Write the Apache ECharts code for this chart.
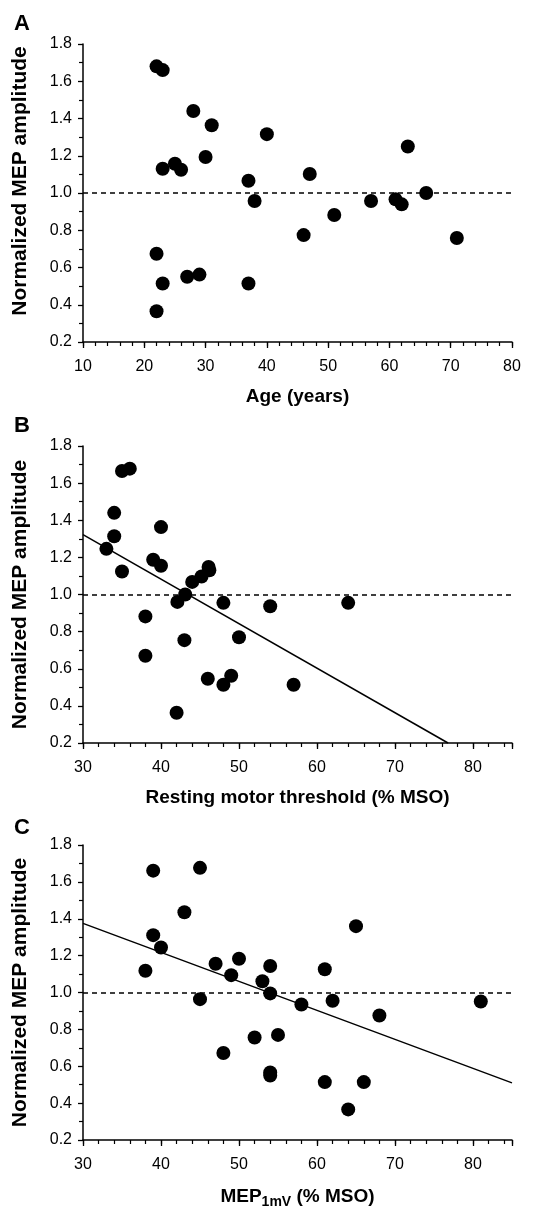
<!DOCTYPE html>
<html>
<head>
<meta charset="utf-8">
<script src="https://cdn.jsdelivr.net/npm/echarts@6/dist/echarts.min.js"></script>
<style>
html,body{margin:0;padding:0;background:#fff;}
#chart{width:544px;height:1210px;}
</style>
</head>
<body>
<div id="chart"></div>
<script>
// Panel A: Age vs normalized MEP amplitude
const ageA = [22, 23, 28, 31, 40, 63, 30, 23, 25, 26, 37, 47, 66, 38, 57, 61, 62, 51, 46, 71, 22, 23, 27, 29, 37, 22];
const mepA = [1.68, 1.66, 1.44, 1.364, 1.316, 1.25, 1.193, 1.13, 1.157, 1.125, 1.066, 1.102, 1.0, 0.957, 0.957, 0.966, 0.939, 0.882, 0.774, 0.758, 0.674, 0.514, 0.55, 0.562, 0.514, 0.365];

// Panel B: Resting motor threshold vs normalized MEP amplitude
const rmtB = [35, 36, 34, 34, 33, 35, 40, 39, 40, 44, 45.2, 46.1, 46.2, 43.1, 42.1, 48, 54, 64, 38, 50, 43, 38, 46, 49, 48, 57, 42];
const mepB = [1.665, 1.678, 1.44, 1.314, 1.246, 1.124, 1.363, 1.187, 1.155, 1.068, 1.097, 1.148, 1.13, 1.0, 0.96, 0.955, 0.937, 0.955, 0.882, 0.77, 0.754, 0.67, 0.546, 0.562, 0.514, 0.514, 0.363];
const fitBx = [30, 76.8];
const fitBy = [1.323, 0.2];

// Panel C: MEP1mV vs normalized MEP amplitude
const mso1mvC = [39, 45, 43, 39, 40, 38, 65, 47, 50, 49, 54, 53, 61, 45, 54, 58, 62, 81, 68, 52, 55, 48, 54, 54, 61, 66, 64];
const mepC = [1.661, 1.676, 1.435, 1.311, 1.244, 1.118, 1.36, 1.156, 1.183, 1.094, 1.144, 1.061, 1.126, 0.964, 0.995, 0.935, 0.955, 0.951, 0.875, 0.756, 0.77, 0.672, 0.566, 0.55, 0.514, 0.514, 0.366];
const fitCx = [30, 85];
const fitCy = [1.375, 0.51];

// Axis settings
const yTicks = {min: 0.2, max: 1.8, interval: 0.2};
const xMajor = 10;
const xMinor = 2;
const refLine = 1.0;
const yTitle = 'Normalized MEP amplitude';
const xTitles = ['Age (years)', 'Resting motor threshold (% MSO)', '{b|MEP}{s|1mV}{b| (% MSO)}'];
const xRanges = [[10, 80], [30, 85], [30, 85]];
const panelLetters = ['A', 'B', 'C'];

const FONT = '"Liberation Sans", Arial, Helvetica, sans-serif';
const zip = (a, b) => a.map((v, i) => [v, b[i]]);

const grids = [
  {left: 83, width: 429, top: 44, height: 298},
  {left: 83, width: 429, top: 446, height: 297},
  {left: 83, width: 429, top: 845, height: 298}
];

const axisLineStyle = {show: true, lineStyle: {color: '#000', width: 1.5}};

const xAxesMain = xRanges.map((r, i) => ({
  type: 'value', gridIndex: i, position: 'bottom', min: r[0], max: r[1], interval: xMajor,
  axisLine: axisLineStyle,
  axisTick: {show: true, inside: false, length: 6, lineStyle: {color: '#000', width: 1.3}},
  minorTick: {show: false},
  splitLine: {show: false},
  axisLabel: {color: '#000', fontSize: 16, fontFamily: FONT, margin: 17,
    formatter: v => (v % xMajor === 0 ? String(v) : '')},
  name: xTitles[i], nameLocation: 'middle', nameGap: 45,
  nameTextStyle: {color: '#000', fontSize: 19, fontWeight: 'bold', fontFamily: FONT,
    rich: {
      b: {fontSize: 19, fontWeight: 'bold', fontFamily: FONT, color: '#000', lineHeight: 24, verticalAlign: 'middle'},
      s: {fontSize: 14, fontWeight: 'bold', fontFamily: FONT, color: '#000', lineHeight: 24, verticalAlign: 'bottom', padding: [12, 0, 0, 0]}
    }}
}));

// Minor-tick axes (every 2 units), overlaid on the main x axes
const xAxesMinor = xRanges.map((r, i) => ({
  type: 'value', gridIndex: i, position: 'bottom', offset: 0, min: r[0], max: r[1], interval: xMinor,
  axisLine: {show: false},
  axisTick: {show: true, inside: false, length: 4, lineStyle: {color: '#000', width: 1.2}},
  axisLabel: {show: false},
  splitLine: {show: false}
}));

const yAxes = grids.map((g, i) => ({
  type: 'value', gridIndex: i, min: yTicks.min, max: yTicks.max, interval: yTicks.interval,
  axisLine: axisLineStyle,
  axisTick: {show: true, inside: false, length: 5, lineStyle: {color: '#000', width: 1.3}},
  minorTick: {show: true, splitNumber: 2, length: 4, lineStyle: {color: '#000', width: 1.2}},
  splitLine: {show: false},
  axisLabel: {color: '#000', fontSize: 16, fontFamily: FONT, margin: 11, formatter: v => v.toFixed(1)},
  name: yTitle, nameLocation: 'middle', nameGap: 52,
  nameTextStyle: {color: '#000', fontSize: 21, fontWeight: 'bold', fontFamily: FONT,
    padding: i === 0 ? [0, 0, 0, 24] : 0}
}));

const dashed = {
  silent: true, symbol: 'none', label: {show: false},
  lineStyle: {color: '#000', width: 1.6, type: [5, 4]},
  data: [{yAxis: refLine}]
};

const dot = {type: 'scatter', symbol: 'circle', symbolSize: 14,
  itemStyle: {color: '#000', opacity: 1}, z: 3};

const series = [
  Object.assign({}, dot, {xAxisIndex: 0, yAxisIndex: 0, data: zip(ageA, mepA), markLine: dashed}),
  Object.assign({}, dot, {xAxisIndex: 1, yAxisIndex: 1, data: zip(rmtB, mepB), markLine: dashed}),
  Object.assign({}, dot, {xAxisIndex: 2, yAxisIndex: 2, data: zip(mso1mvC, mepC), markLine: dashed}),
  {type: 'line', xAxisIndex: 1, yAxisIndex: 1, data: zip(fitBx, fitBy), symbol: 'none',
    lineStyle: {color: '#000', width: 1.5}, z: 2},
  {type: 'line', xAxisIndex: 2, yAxisIndex: 2, data: zip(fitCx, fitCy), symbol: 'none',
    lineStyle: {color: '#000', width: 1.5}, z: 2}
];

const letterTops = [13, 415, 817];
const graphic = panelLetters.map((t, i) => ({
  type: 'text', left: 14, top: letterTops[i],
  style: {text: t, fill: '#000', font: 'bold 22px ' + FONT}
}));

const chart = echarts.init(document.getElementById('chart'), null, {renderer: 'canvas'});
chart.setOption({
  animation: false,
  backgroundColor: '#fff',
  grid: grids,
  xAxis: xAxesMain.concat(xAxesMinor),
  yAxis: yAxes,
  series: series,
  graphic: graphic
});
</script>
</body>
</html>
